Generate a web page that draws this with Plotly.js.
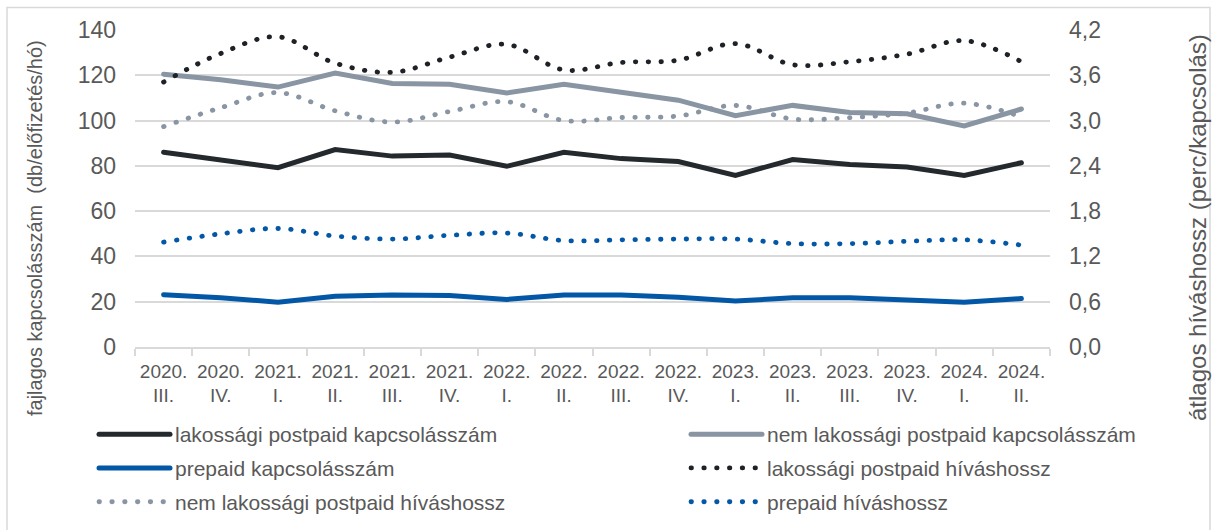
<!DOCTYPE html>
<html>
<head>
<meta charset="utf-8">
<script src="https://cdn.plot.ly/plotly-3.0.1.min.js"></script>
<style>
  html, body { margin: 0; padding: 0; background: #ffffff; }
  #chart { width: 1215px; height: 530px; }
  path.js-line { stroke-linecap: round; }
</style>
</head>
<body>
<div id="chart"></div>
<script>
// ---- data ----
const years    = ['2020.', '2020.', '2021.', '2021.', '2021.', '2021.', '2022.', '2022.', '2022.', '2022.', '2023.', '2023.', '2023.', '2023.', '2024.', '2024.'];
const quarters = ['III.', 'IV.', 'I.', 'II.', 'III.', 'IV.', 'I.', 'II.', 'III.', 'IV.', 'I.', 'II.', 'III.', 'IV.', 'I.', 'II.'];

// left axis: fajlagos kapcsolásszám (db/előfizetés/hó)
const lakPostpaidKaps    = [86.0, 82.6, 79.2, 87.2, 84.3, 84.8, 79.8, 86.0, 83.2, 81.9, 75.8, 82.8, 80.6, 79.5, 75.8, 81.4];
const nemLakPostpaidKaps = [120.5, 118.0, 114.8, 121.0, 116.4, 116.0, 112.2, 116.0, 112.5, 109.0, 102.2, 106.7, 103.6, 103.0, 97.6, 105.1];
const prepaidKaps        = [23.1, 21.8, 19.8, 22.4, 23.0, 22.7, 21.0, 23.0, 23.0, 22.0, 20.3, 21.7, 21.7, 21.0, 19.8, 21.4];

// right axis: átlagos híváshossz (perc/kapcsolás)
const lakPostpaidHivas    = [3.51, 3.89, 4.11, 3.76, 3.64, 3.84, 4.01, 3.67, 3.77, 3.80, 4.02, 3.74, 3.78, 3.88, 4.06, 3.78];
const nemLakPostpaidHivas = [2.92, 3.17, 3.37, 3.13, 2.98, 3.12, 3.25, 3.00, 3.04, 3.06, 3.20, 3.02, 3.04, 3.10, 3.23, 3.05];
const prepaidHivas        = [1.39, 1.50, 1.57, 1.47, 1.43, 1.48, 1.51, 1.41, 1.42, 1.43, 1.43, 1.37, 1.37, 1.40, 1.42, 1.35];

const seriesNames = [
  'lakossági postpaid kapcsolásszám',
  'nem lakossági postpaid kapcsolásszám',
  'prepaid kapcsolásszám',
  'lakossági postpaid híváshossz',
  'nem lakossági postpaid híváshossz',
  'prepaid híváshossz'
];

const leftTitle  = 'fajlagos kapcsolásszám \u00a0(db/előfizetés/hó)';
const rightTitle = 'átlagos híváshossz (perc/kapcsolás)';

// ---- build ----
const cats = years.map((y, i) => y + '<br>' + quarters[i]);

const BLACK = '#24292d';
const GRAY  = '#8995a2';
const BLUE  = '#0357a7';
const DOTS  = '0.5px,12.3px';
const TXT   = '#595959';
const GRID  = '#d9d9d9';
const FONT  = '"Liberation Sans", Arial, sans-serif';

function solid(y, name, color, legend) {
  return { x: cats, y: y, name: name, type: 'scatter', mode: 'lines', yaxis: 'y',
           legend: legend, legendgroup: name,
           line: { color: color, width: 5, shape: 'linear' }, hoverinfo: 'x+y+name' };
}
function dotted(y, name, color, legend) {
  return { x: cats, y: y, name: name, type: 'scatter', mode: 'lines', yaxis: 'y2',
           legend: legend, legendgroup: name,
           line: { color: color, width: 4.8, dash: DOTS, shape: 'spline', smoothing: 1 }, hoverinfo: 'x+y+name' };
}

const traces = [
  solid(lakPostpaidKaps,    seriesNames[0], BLACK, 'legend'),
  solid(nemLakPostpaidKaps, seriesNames[1], GRAY,  'legend2'),
  solid(prepaidKaps,        seriesNames[2], BLUE,  'legend'),
  dotted(lakPostpaidHivas,    seriesNames[3], '#1e2226', 'legend2'),
  dotted(nemLakPostpaidHivas, seriesNames[4], GRAY,  'legend'),
  dotted(prepaidHivas,        seriesNames[5], BLUE,  'legend2')
];

const legendBase = {
  xref: 'container', yref: 'container', xanchor: 'left', yanchor: 'top',
  orientation: 'v', bgcolor: 'rgba(0,0,0,0)', borderwidth: 0,
  font: { family: FONT, size: 21, color: TXT },
  itemwidth: 71, tracegroupgap: 3.5, traceorder: 'grouped', itemclick: false, itemdoubleclick: false
};

const layout = {
  width: 1215, height: 530,
  margin: { l: 135, r: 165, t: 30, b: 183, autoexpand: false },
  paper_bgcolor: '#ffffff', plot_bgcolor: '#ffffff',
  separators: ', ',
  font: { family: FONT, color: TXT },
  showlegend: true,
  xaxis: {
    type: 'category', range: [-0.5, 15.5], autorange: false, showgrid: false, zeroline: false,
    showline: true, linecolor: GRID, linewidth: 1.5,
    ticks: 'outside', tickson: 'boundaries', ticklen: 7, tickwidth: 1.5, tickcolor: GRID,
    ticklabelstandoff: 6,
    tickfont: { family: FONT, size: 19, color: TXT }, tickangle: 0, fixedrange: true
  },
  yaxis: {
    range: [0, 140], dtick: 20, tick0: 0, showgrid: true, gridcolor: GRID, gridwidth: 1.5,
    zeroline: false, showline: false, ticks: '', ticklabelstandoff: 18,
    tickfont: { family: FONT, size: 23, color: TXT }, fixedrange: true
  },
  yaxis2: {
    overlaying: 'y', side: 'right', range: [0, 4.2], dtick: 0.6, tick0: 0, tickformat: '.1f',
    showgrid: false, zeroline: false, showline: false, ticks: '', ticklabelstandoff: 18,
    tickfont: { family: FONT, size: 23, color: TXT }, fixedrange: true
  },
  legend:  Object.assign({}, legendBase, { x: 94 / 1215, y: 1 - 414 / 530 }),
  legend2: Object.assign({}, legendBase, { x: 686 / 1215, y: 1 - 414 / 530 }),
  annotations: [
    { text: leftTitle, xref: 'paper', yref: 'paper', x: (35 - 135) / 915, y: (347 - 228) / 317,
      textangle: -90, showarrow: false, xanchor: 'center', yanchor: 'middle',
      font: { family: FONT, size: 20, color: TXT } },
    { text: rightTitle, xref: 'paper', yref: 'paper', x: (1197 - 135) / 915, y: (347 - 228) / 317,
      textangle: -90, showarrow: false, xanchor: 'center', yanchor: 'middle',
      font: { family: FONT, size: 24, color: TXT } }
  ],
  shapes: [
    { type: 'rect', xref: 'paper', yref: 'paper',
      x0: (7 - 135) / 915, x1: (1210 - 135) / 915, y0: (347 - 545) / 317, y1: (347 - 7.5) / 317,
      line: { color: GRID, width: 1.5 }, fillcolor: 'rgba(0,0,0,0)', layer: 'below' }
  ]
};

Plotly.newPlot('chart', traces, layout, { displayModeBar: false, staticPlot: false, responsive: false });
</script>
</body>
</html>
